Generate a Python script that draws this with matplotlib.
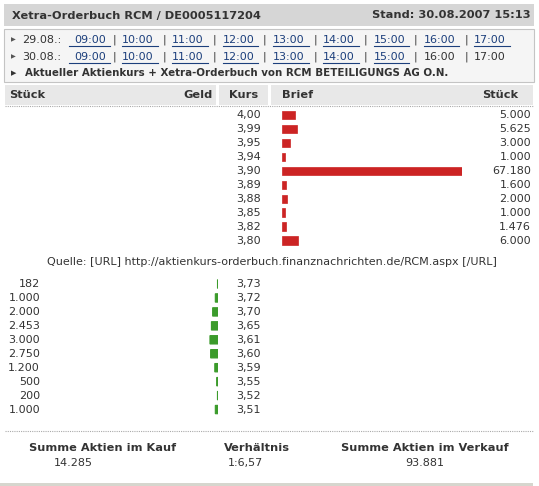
import matplotlib
matplotlib.use("Agg")
import matplotlib.pyplot as plt
from matplotlib.patches import Rectangle

# ---------------- data ----------------
ask_kurs = ["4,00", "3,99", "3,95", "3,94", "3,90", "3,89", "3,88", "3,85", "3,82", "3,80"]
ask_stueck = [5000, 5625, 3000, 1000, 67180, 1600, 2000, 1000, 1476, 6000]
bid_kurs = ["3,73", "3,72", "3,70", "3,65", "3,61", "3,60", "3,59", "3,55", "3,52", "3,51"]
bid_stueck = [182, 1000, 2000, 2453, 3000, 2750, 1200, 500, 200, 1000]
times = ["09:00", "10:00", "11:00", "12:00", "13:00", "14:00", "15:00", "16:00", "17:00"]
days = ["29.08.:", "30.08.:"]
links_per_day = [9, 7]
title = "Xetra-Orderbuch RCM / DE0005117204"
stand = "Stand: 30.08.2007 15:13"
aktuell = "Aktueller Aktienkurs + Xetra-Orderbuch von RCM BETEILIGUNGS AG O.N."
quelle = "Quelle: [URL] http://aktienkurs-orderbuch.finanznachrichten.de/RCM.aspx [/URL]"
summe_kauf, verhaeltnis, summe_verkauf = "14.285", "1:6,57", "93.881"

def fmt(n):
    return f"{n:,}".replace(",", ".")

W, H = 539, 486
FS = 8.0
FSB = 8.2
TXT = "#333333"
LINK = "#1c3f7c"
RED = "#cc2424"
GREEN = "#3b9b2b"

fig = plt.figure(figsize=(W / 100, H / 100), dpi=100)
ax = fig.add_axes([0, 0, 1, 1])
ax.set_xlim(0, W)
ax.set_ylim(H, 0)
ax.axis("off")

# --------- header bar ---------
ax.add_patch(Rectangle((4, 4), 530, 22, facecolor="#d6d6d6", edgecolor="none"))
ax.text(12, 15.5, title, fontsize=FSB, fontweight="bold", color=TXT, va="center", ha="left")
ax.text(531, 15.5, stand, fontsize=FSB, fontweight="bold", color=TXT, va="center", ha="right")

# --------- box with time links ---------
ax.add_patch(Rectangle((4, 29), 530, 53, facecolor="#f5f5f5", edgecolor="#c4c4c4", lw=0.8))
fig.canvas.draw()
renderer = fig.canvas.get_renderer()
inv = ax.transData.inverted()
row_y = [40, 57]
for d, day in enumerate(days):
    y = row_y[d]
    ax.text(11, y, "\u25B6", fontsize=4.5, color="#555555", va="center", ha="left")
    ax.text(22, y, day, fontsize=FS, color=TXT, va="center", ha="left")
    for k, t in enumerate(times):
        x = 74 if k == 0 else 122 + (k - 1) * 50.3
        is_link = k < links_per_day[d]
        tt = ax.text(x, y, t, fontsize=FS, color=LINK if is_link else TXT, va="center", ha="left")
        if is_link:
            bb = tt.get_window_extent(renderer)
            x0, _ = inv.transform((bb.x0, bb.y0))
            x1, _ = inv.transform((bb.x1, bb.y0))
            ax.plot([x0 - (5 if k == 0 else 0), x1 + 4], [y + 6, y + 6], color=LINK, lw=0.8)
        if k > 0:
            ax.text(x - 8, y, "|", fontsize=FS, color=TXT, va="center", ha="center")
ax.text(11, 73, "\u25B6", fontsize=5, color="#333333", va="center", ha="left")
ax.text(25, 73, aktuell, fontsize=7.35, fontweight="bold", color=TXT, va="center", ha="left")

# --------- column header ---------
for x0, x1 in [(5, 216), (219, 268), (271, 533)]:
    ax.add_patch(Rectangle((x0, 85), x1 - x0, 20, facecolor="#e8e8e8", edgecolor="none"))
ax.plot([5, 533], [106, 106], color="#aaaaaa", lw=0.8, ls=(0, (1, 1)))
hy = 95
ax.text(9, hy, "Stück", fontsize=FSB, fontweight="bold", color=TXT, va="center", ha="left")
ax.text(213, hy, "Geld", fontsize=FSB, fontweight="bold", color=TXT, va="center", ha="right")
ax.text(229, hy, "Kurs", fontsize=FSB, fontweight="bold", color=TXT, va="center", ha="left")
ax.text(282, hy, "Brief", fontsize=FSB, fontweight="bold", color=TXT, va="center", ha="left")
ax.text(518, hy, "Stück", fontsize=FSB, fontweight="bold", color=TXT, va="center", ha="right")

# --------- ask (Brief) bars ---------
ROW = 13.95
MAXV = 67180
PXW = 180
n_ask = len(ask_kurs)
ask_top = 115 - ROW / 2
ax_ask = fig.add_axes([282 / W, 1 - (ask_top + n_ask * ROW) / H, PXW / W, n_ask * ROW / H])
ax_ask.barh(range(n_ask), ask_stueck, height=0.6, color=RED, edgecolor=RED, lw=0.5)
ax_ask.set_xlim(0, MAXV)
ax_ask.set_ylim(n_ask - 0.5, -0.5)
ax_ask.axis("off")
for i in range(n_ask):
    y = 115 + i * ROW
    ax.text(261, y, ask_kurs[i], fontsize=FS, color=TXT, va="center", ha="right")
    ax.text(531, y, fmt(ask_stueck[i]), fontsize=FS, color=TXT, va="center", ha="right")

ax.text(272, 262, quelle, fontsize=FS, color=TXT, va="center", ha="center")

# --------- bid (Geld) bars ---------
n_bid = len(bid_kurs)
bid_top = 284 - ROW / 2
ax_bid = fig.add_axes([(218 - PXW) / W, 1 - (bid_top + n_bid * ROW) / H, PXW / W, n_bid * ROW / H])
bars = ax_bid.barh(range(n_bid), bid_stueck, height=0.6, color=GREEN, edgecolor=GREEN, lw=0.8)
for b in bars:
    b.set_snap(False)
ax_bid.set_xlim(MAXV, 0)
ax_bid.set_ylim(n_bid - 0.5, -0.5)
ax_bid.axis("off")
for i in range(n_bid):
    y = 284 + i * ROW
    ax.text(261, y, bid_kurs[i], fontsize=FS, color=TXT, va="center", ha="right")
    ax.text(40, y, fmt(bid_stueck[i]), fontsize=FS, color=TXT, va="center", ha="right")

# --------- summary ---------
ax.plot([5, 533], [431, 431], color="#aaaaaa", lw=0.8, ls=(0, (1, 1)))
ax.text(103, 448, "Summe Aktien im Kauf", fontsize=FSB, fontweight="bold", color=TXT, va="center", ha="center")
ax.text(54, 463, summe_kauf, fontsize=FS, color=TXT, va="center", ha="left")
ax.text(257, 448, "Verhältnis", fontsize=FSB, fontweight="bold", color=TXT, va="center", ha="center")
ax.text(228, 463, verhaeltnis, fontsize=FS, color=TXT, va="center", ha="left")
ax.text(425, 448, "Summe Aktien im Verkauf", fontsize=FSB, fontweight="bold", color=TXT, va="center", ha="center")
ax.text(425, 463, summe_verkauf, fontsize=FS, color=TXT, va="center", ha="center")
ax.add_patch(Rectangle((0, 483), 533, 3, facecolor="#d6d6ce", edgecolor="none"))

fig.savefig("out.png", dpi=100)
